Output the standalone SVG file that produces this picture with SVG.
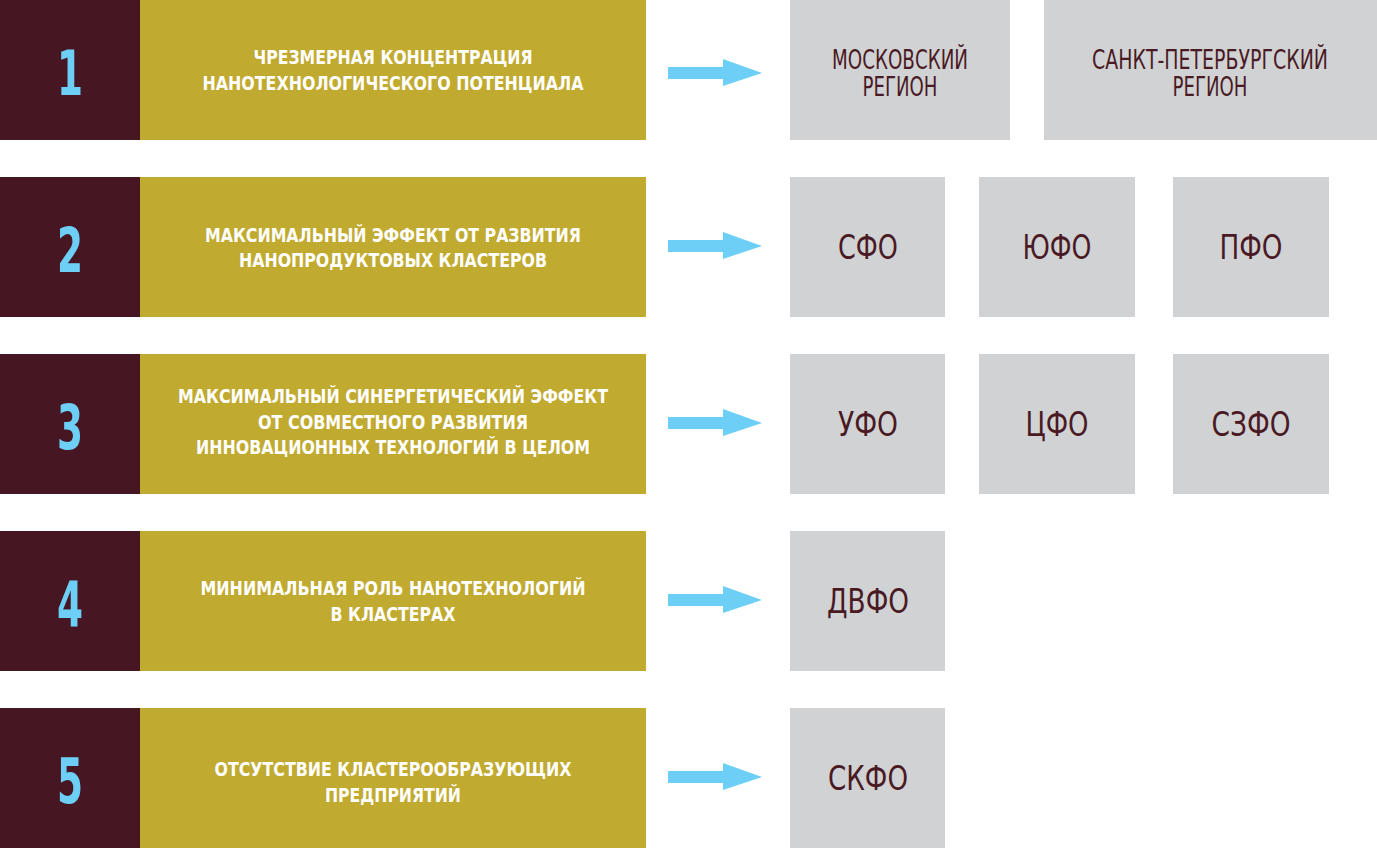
<svg xmlns="http://www.w3.org/2000/svg" width="1377" height="848" viewBox="0 0 1377 848">
<style>
.num{fill:#6dcff6;font-family:"DejaVu Sans","Liberation Sans",sans-serif;font-weight:bold;font-size:62px;font-stretch:condensed;text-anchor:middle}
.dark{fill:#461723}
.gold{fill:#c1aa30}
.gray{fill:#d1d2d4}
.lbl{fill:#ffffff;font-family:"DejaVu Sans","Liberation Sans",sans-serif;font-weight:bold;font-size:19.5px;font-stretch:condensed;text-anchor:middle}
.reg{fill:#4a1a24;font-family:"DejaVu Sans","Liberation Sans",sans-serif;font-size:27px;font-stretch:condensed;text-anchor:middle}
.fo{fill:#4a1a24;font-family:"DejaVu Sans","Liberation Sans",sans-serif;font-size:34px;font-stretch:condensed;text-anchor:middle}
.arr{fill:#6dcff6}
</style>
<defs>
<path id="arrow" d="M668 -6 H723 V-14 L762 0 L723 13 V6 H668 Z"/>
</defs>
<rect width="1377" height="848" fill="#ffffff"/>

<g id="row1">
<rect class="dark" x="0" y="0" width="140" height="140"/>
<rect class="gold" x="140" y="0" width="506" height="140"/>
<text class="num" x="70" y="95" textLength="26" lengthAdjust="spacingAndGlyphs">1</text>
<text class="lbl" x="393" y="64" textLength="279" lengthAdjust="spacingAndGlyphs">ЧРЕЗМЕРНАЯ КОНЦЕНТРАЦИЯ</text>
<text class="lbl" x="393" y="90" textLength="381" lengthAdjust="spacingAndGlyphs">НАНОТЕХНОЛОГИЧЕСКОГО ПОТЕНЦИАЛА</text>
</g>
<g id="row2">
<rect class="dark" x="0" y="177" width="140" height="140"/>
<rect class="gold" x="140" y="177" width="506" height="140"/>
<text class="num" x="70" y="272" textLength="26" lengthAdjust="spacingAndGlyphs">2</text>
<text class="lbl" x="393" y="242" textLength="376" lengthAdjust="spacingAndGlyphs">МАКСИМАЛЬНЫЙ ЭФФЕКТ ОТ РАЗВИТИЯ</text>
<text class="lbl" x="393" y="267" textLength="308" lengthAdjust="spacingAndGlyphs">НАНОПРОДУКТОВЫХ КЛАСТЕРОВ</text>
</g>
<g id="row3">
<rect class="dark" x="0" y="354" width="140" height="140"/>
<rect class="gold" x="140" y="354" width="506" height="140"/>
<text class="num" x="70" y="449" textLength="26" lengthAdjust="spacingAndGlyphs">3</text>
<text class="lbl" x="393" y="403" textLength="430" lengthAdjust="spacingAndGlyphs">МАКСИМАЛЬНЫЙ СИНЕРГЕТИЧЕСКИЙ ЭФФЕКТ</text>
<text class="lbl" x="393" y="429" textLength="270" lengthAdjust="spacingAndGlyphs">ОТ СОВМЕСТНОГО РАЗВИТИЯ</text>
<text class="lbl" x="393" y="454" textLength="394" lengthAdjust="spacingAndGlyphs">ИННОВАЦИОННЫХ ТЕХНОЛОГИЙ В ЦЕЛОМ</text>
</g>
<g id="row4">
<rect class="dark" x="0" y="531" width="140" height="140"/>
<rect class="gold" x="140" y="531" width="506" height="140"/>
<text class="num" x="70" y="626" textLength="26" lengthAdjust="spacingAndGlyphs">4</text>
<text class="lbl" x="393" y="595" textLength="385" lengthAdjust="spacingAndGlyphs">МИНИМАЛЬНАЯ РОЛЬ НАНОТЕХНОЛОГИЙ</text>
<text class="lbl" x="393" y="621" textLength="125" lengthAdjust="spacingAndGlyphs">В КЛАСТЕРАХ</text>
</g>
<g id="row5">
<rect class="dark" x="0" y="708" width="140" height="140"/>
<rect class="gold" x="140" y="708" width="506" height="140"/>
<text class="num" x="70" y="803" textLength="26" lengthAdjust="spacingAndGlyphs">5</text>
<text class="lbl" x="393" y="776" textLength="357" lengthAdjust="spacingAndGlyphs">ОТСУТСТВИЕ КЛАСТЕРООБРАЗУЮЩИХ</text>
<text class="lbl" x="393" y="802" textLength="136" lengthAdjust="spacingAndGlyphs">ПРЕДПРИЯТИЙ</text>
</g>

<g id="connectors">
<use href="#arrow" class="arr" transform="translate(0,73)"/>
<use href="#arrow" class="arr" transform="translate(0,246)"/>
<use href="#arrow" class="arr" transform="translate(0,423)"/>
<use href="#arrow" class="arr" transform="translate(0,600)"/>
<use href="#arrow" class="arr" transform="translate(0,777)"/>
</g>

<g id="moscow">
<rect class="gray" x="790" y="0" width="220" height="140"/>
<text class="reg" x="900" y="69" textLength="136" lengthAdjust="spacingAndGlyphs">МОСКОВСКИЙ</text>
<text class="reg" x="900" y="96" textLength="75" lengthAdjust="spacingAndGlyphs">РЕГИОН</text>
</g>
<g id="spb">
<rect class="gray" x="1044" y="0" width="333" height="140"/>
<text class="reg" x="1210" y="69" textLength="236" lengthAdjust="spacingAndGlyphs">САНКТ-ПЕТЕРБУРГСКИЙ</text>
<text class="reg" x="1210" y="96" textLength="75" lengthAdjust="spacingAndGlyphs">РЕГИОН</text>
</g>
<g id="sfo">
<rect class="gray" x="790" y="177" width="155" height="140"/>
<text class="fo" x="868" y="259" textLength="60" lengthAdjust="spacingAndGlyphs">СФО</text>
</g>
<g id="yufo">
<rect class="gray" x="979" y="177" width="156" height="140"/>
<text class="fo" x="1057" y="259" textLength="69" lengthAdjust="spacingAndGlyphs">ЮФО</text>
</g>
<g id="pfo">
<rect class="gray" x="1173" y="177" width="156" height="140"/>
<text class="fo" x="1251" y="259" textLength="63" lengthAdjust="spacingAndGlyphs">ПФО</text>
</g>
<g id="ufo">
<rect class="gray" x="790" y="354" width="155" height="140"/>
<text class="fo" x="868" y="436" textLength="60" lengthAdjust="spacingAndGlyphs">УФО</text>
</g>
<g id="cfo">
<rect class="gray" x="979" y="354" width="156" height="140"/>
<text class="fo" x="1057" y="436" textLength="63" lengthAdjust="spacingAndGlyphs">ЦФО</text>
</g>
<g id="szfo">
<rect class="gray" x="1173" y="354" width="156" height="140"/>
<text class="fo" x="1251" y="436" textLength="79" lengthAdjust="spacingAndGlyphs">СЗФО</text>
</g>
<g id="dvfo">
<rect class="gray" x="790" y="531" width="155" height="140"/>
<text class="fo" x="868" y="613" textLength="82" lengthAdjust="spacingAndGlyphs">ДВФО</text>
</g>
<g id="skfo">
<rect class="gray" x="790" y="708" width="155" height="140"/>
<text class="fo" x="868" y="790" textLength="80" lengthAdjust="spacingAndGlyphs">СКФО</text>
</g>
</svg>
